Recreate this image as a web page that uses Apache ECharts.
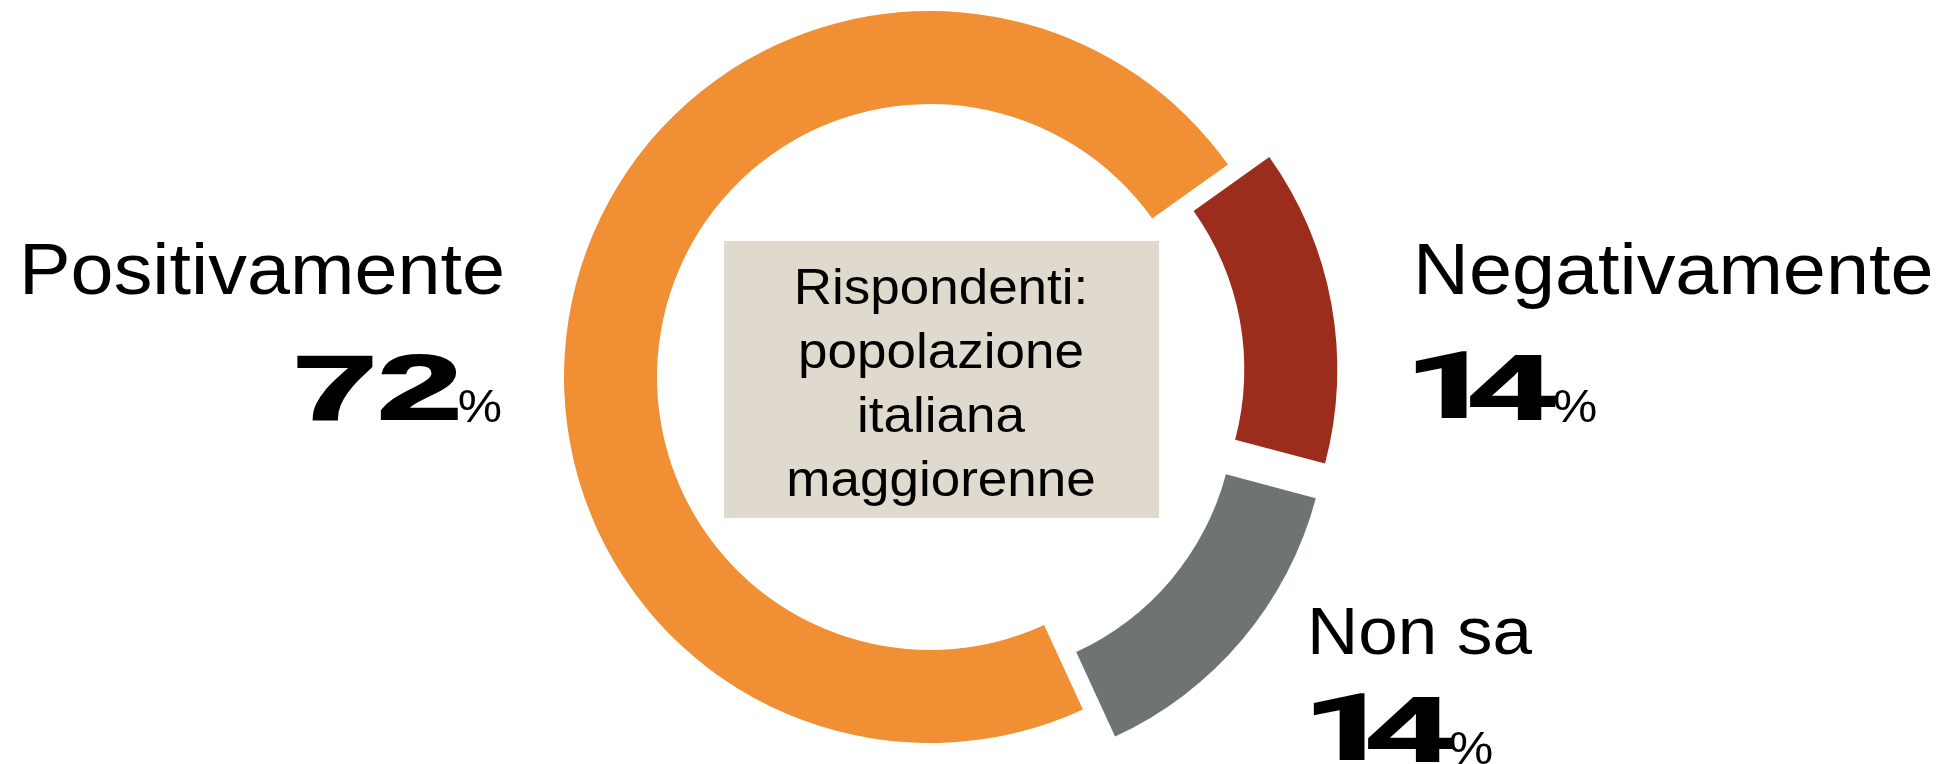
<!DOCTYPE html>
<html>
<head>
<meta charset="utf-8">
<style>
  html, body { margin: 0; padding: 0; background: #fff; overflow: hidden; }
  #chart { width: 1946px; height: 764px; }
</style>
<script src="https://cdn.jsdelivr.net/npm/echarts@6/dist/echarts.min.js"></script>
</head>
<body>
<div id="chart"></div>
<script>
// data
const categories = ['Negativamente', 'Non sa', 'Positivamente']
const values = [14, 14, 72]
const pulledOut = [true, true, false]
const boxLines = ['Rispondenti:', 'popolazione', 'italiana', 'maggiorenne']

// styles
const colors = ['#9C2D1C', '#6E7471', '#F08F33']
const textFont = '"Liberation Sans", Arial, sans-serif'
const wide = 1.06 // the reference type is a little wider than Arial

// where each label sits
const labelLayout = [
  { side: 'left', nameX: 1413, nameY: 274, nameSize: 73, numX: 1405, numY: 394, pctX: 1553, pctY: 409 },
  { side: 'left', nameX: 1307, nameY: 636, nameSize: 67, numX: 1303, numY: 736, pctX: 1449, pctY: 751 },
  { side: 'right', nameX: 505, nameY: 274, nameSize: 73, numX: 462, numY: 394, pctX: 502, pctY: 409 }
]

const chart = echarts.init(document.getElementById('chart'))

// heavy wide digits: bold font stretched, with tighter steps per digit
const digitStyle = {
  font: 'bold 90px ' + textFont,
  fill: '#000',
  stroke: '#000',
  lineWidth: 2,
  align: 'left'
}
// a "1" without a foot, like the reference
const oneStyle = Object.assign({}, digitStyle, { font: 'bold 90px Roboto, "Open Sans", sans-serif' })

function digitText(v) {
  return String(v).split('').map(function(c) {
    return '{' + (c === '1' ? 'one' : 'dig') + '|' + c + '}'
  }).join('')
}

const graphics = [
  {
    type: 'rect',
    shape: { x: 724, y: 241, width: 435, height: 277 },
    style: { fill: '#E0D9CD' },
    z: 10
  },
  {
    type: 'text',
    x: 941,
    y: 386,
    scaleX: wide,
    style: {
      text: boxLines.join('\n'),
      font: '50px ' + textFont,
      lineHeight: 64,
      fill: '#000',
      align: 'center',
      verticalAlign: 'middle'
    },
    z: 11
  }
]

categories.forEach(function(name, i) {
  const p = labelLayout[i]
  graphics.push({
    type: 'text',
    x: p.nameX,
    y: p.nameY,
    scaleX: wide,
    style: { text: name, font: p.nameSize + 'px ' + textFont, fill: '#000', align: p.side, verticalAlign: 'middle' },
    z: 11
  })
  graphics.push({
    type: 'text',
    x: p.numX,
    y: p.numY,
    scaleX: 1.6 * wide,
    style: {
      text: digitText(values[i]),
      font: digitStyle.font,
      fill: '#000',
      stroke: '#000',
      lineWidth: 2,
      align: p.side,
      verticalAlign: 'middle',
      rich: {
        dig: Object.assign({ width: 50 }, digitStyle),
        one: Object.assign({ width: 38 }, oneStyle)
      }
    },
    z: 11
  })
  graphics.push({
    type: 'text',
    x: p.pctX,
    y: p.pctY,
    scaleX: wide,
    style: { text: '%', font: '47px ' + textFont, fill: '#000', align: p.side, verticalAlign: 'middle' },
    z: 11
  })
})

chart.setOption({
  animation: false,
  graphic: graphics,
  series: [
    {
      type: 'pie',
      center: [930, 377],
      radius: [273, 366],
      startAngle: 35.5,
      clockwise: true,
      selectedMode: 'multiple',
      selectedOffset: 42,
      emphasis: { disabled: true },
      label: { show: false },
      labelLine: { show: false },
      data: categories.map(function(name, i) {
        return {
          name: name,
          value: values[i],
          selected: pulledOut[i],
          itemStyle: { color: colors[i], borderWidth: 0 },
          select: { itemStyle: { color: colors[i], borderWidth: 0 } }
        }
      })
    }
  ]
})
</script>
</body>
</html>
